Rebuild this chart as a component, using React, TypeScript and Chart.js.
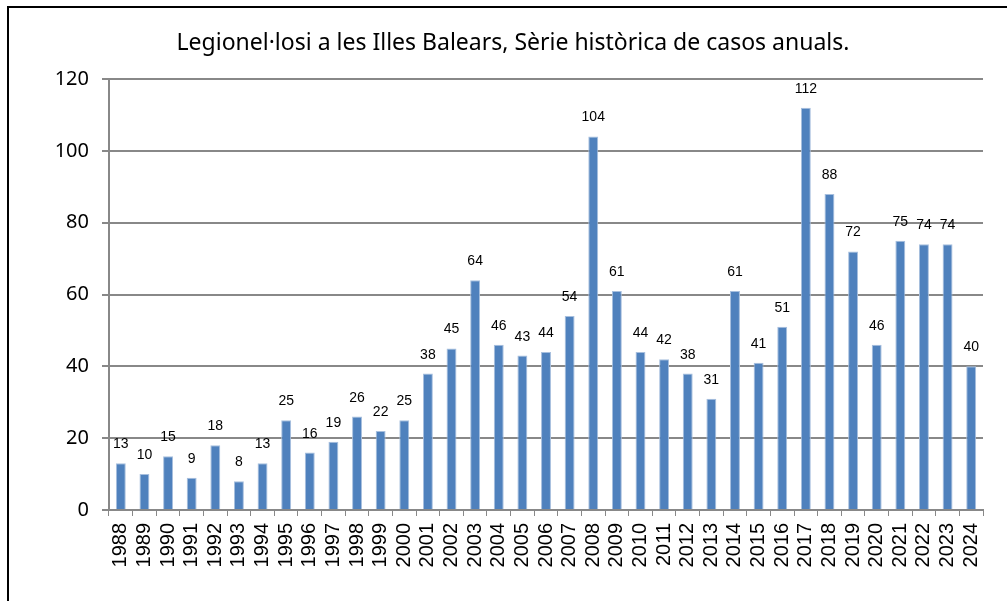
import React, { useEffect, useRef } from "react";
import { Chart, registerables } from "chart.js";

Chart.register(...registerables);

const TITLE = "Legionel·losi a les Illes Balears, Sèrie històrica de casos anuals.";
const years = [
  "1988", "1989", "1990", "1991", "1992", "1993", "1994", "1995", "1996", "1997",
  "1998", "1999", "2000", "2001", "2002", "2003", "2004", "2005", "2006", "2007",
  "2008", "2009", "2010", "2011", "2012", "2013", "2014", "2015", "2016", "2017",
  "2018", "2019", "2020", "2021", "2022", "2023", "2024",
];
const cases = [
  13, 10, 15, 9, 18, 8, 13, 25, 16, 19,
  26, 22, 25, 38, 45, 64, 46, 43, 44, 54,
  104, 61, 44, 42, 38, 31, 61, 41, 51, 112,
  88, 72, 46, 75, 74, 74, 40,
];
const yTicks = [0, 20, 40, 60, 80, 100, 120];

const W = 1007;
const H = 601;

export default function App() {
  const ref = useRef<HTMLCanvasElement | null>(null);

  useEffect(() => {
    if (!ref.current) return;
    const labelPlugin = {
      id: "extras",
      afterDatasetsDraw(chart: any) {
        const ctx = chart.ctx;
        ctx.save();
        // title
        ctx.font = '23px "Noto Sans", "Open Sans", sans-serif';
        ctx.fillStyle = "#000";
        ctx.textAlign = "center";
        ctx.textBaseline = "middle";
        ctx.fillText(TITLE, 513, 43);
        // data labels
        const meta = chart.getDatasetMeta(0);
        ctx.font = '14px "Liberation Sans", Arial, sans-serif';
        ctx.fillStyle = "#000";
        ctx.textBaseline = "alphabetic";
        meta.data.forEach((bar: any, i: number) => {
          ctx.fillText(String(cases[i]), bar.x, bar.y - 15);
        });
        ctx.restore();
      },
    };

    const chart = new Chart(ref.current, {
      type: "bar",
      data: {
        labels: years,
        datasets: [
          {
            data: cases,
            backgroundColor: "#4F81BD",
            borderColor: "#A7BFDE",
            borderWidth: { left: 1, right: 1, top: 1, bottom: 0 },
            barPercentage: 0.42,
            categoryPercentage: 1,
          },
        ],
      },
      options: {
        animation: false,
        responsive: false,
        maintainAspectRatio: false,
        devicePixelRatio: 1,
        layout: { padding: { top: 79, right: 24, left: 0, bottom: 0 } },
        plugins: {
          legend: { display: false },
          title: { display: false },
          tooltip: { enabled: false },
        },
        scales: {
          x: {
            grid: {
              display: true,
              drawOnChartArea: false,
              drawTicks: true,
              tickLength: 6,
              color: "#888888",
              offset: true,
            },
            border: { display: true, color: "#888888", width: 2 },
            ticks: {
              color: "#000",
              font: { family: '"Liberation Sans", Arial, sans-serif', size: 20 },
              minRotation: 90,
              maxRotation: 90,
              autoSkip: false,
              padding: 7,
            },
            afterFit(scale: any) {
              scale.height = H - 510;
            },
          },
          y: {
            min: 0,
            max: 120,
            afterBuildTicks(scale: any) {
              scale.ticks = yTicks.map((v) => ({ value: v }));
            },
            grid: {
              color: "#888888",
              lineWidth: 2,
              tickLength: 7,
              drawTicks: true,
            },
            border: { display: true, color: "#888888", width: 2 },
            ticks: {
              color: "#000",
              font: { family: '"Noto Sans", "Open Sans", sans-serif', size: 20 },
              padding: 13,
            },
            afterFit(scale: any) {
              scale.width = 109;
            },
          },
        },
      },
      plugins: [labelPlugin],
    });
    return () => chart.destroy();
  }, []);

  return (
    <div
      style={{
        position: "fixed",
        left: 0,
        top: 0,
        width: W,
        height: H,
        overflow: "hidden",
        background: "#fff",
      }}
    >
      <canvas ref={ref} width={W} height={H} style={{ position: "absolute", left: 0, top: 0, width: W, height: H }} />
      <div
        style={{
          position: "absolute",
          left: 7,
          top: 6,
          width: 1100,
          height: 700,
          border: "2px solid #000",
          pointerEvents: "none",
        }}
      />
    </div>
  );
}
